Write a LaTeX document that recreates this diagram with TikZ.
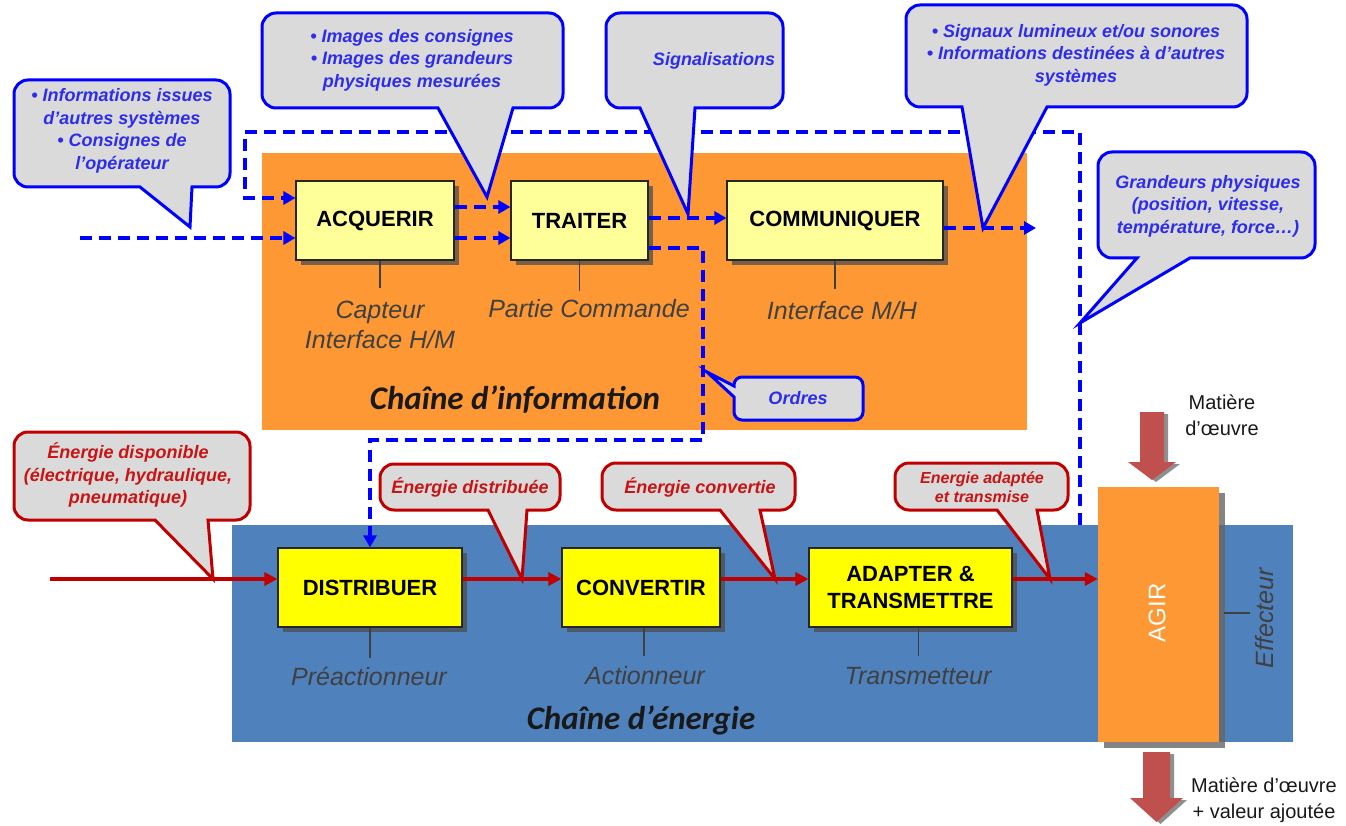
\documentclass[tikz,border=0pt]{standalone}
\usepackage{fontspec}
\setmainfont{Liberation Sans}
\newfontfamily\calibrifont{Carlito}
\usetikzlibrary{arrows.meta,shadows,calc}

\definecolor{infoOrange}{RGB}{253,152,52}
\definecolor{nrjBlue}{RGB}{79,129,189}
\definecolor{paleYellow}{RGB}{255,255,153}
\definecolor{brightYellow}{RGB}{255,255,0}
\definecolor{bubbleGray}{RGB}{218,218,218}
\definecolor{sigBlue}{RGB}{0,0,255}
\definecolor{sigText}{RGB}{45,45,235}
\definecolor{powRed}{RGB}{192,0,0}
\definecolor{powText}{RGB}{200,20,20}
\definecolor{matRed}{RGB}{192,80,77}
\definecolor{labelGray}{RGB}{64,64,64}
\definecolor{titleInk}{RGB}{25,25,25}

% corner radius of the speech bubbles
\newcommand\crad{14}
% speech bubble with a pointer under its bottom edge
% #1 style, #2 x1, #3 y1, #4 x2, #5 y2, #6 left base, #7 right base, #8 tip x, #9 tip y
\newcommand\bubble[9]{%
  \draw[#1]
    (#2+\crad,#3) -- (#4-\crad,#3)
    .. controls (#4-0.45*\crad,#3) and (#4,#3+0.45*\crad) .. (#4,#3+\crad)
    -- (#4,#5-\crad)
    .. controls (#4,#5-0.45*\crad) and (#4-0.45*\crad,#5) .. (#4-\crad,#5)
    -- (#7,#5) -- (#8,#9) -- (#6,#5)
    -- (#2+\crad,#5)
    .. controls (#2+0.45*\crad,#5) and (#2,#5-0.45*\crad) .. (#2,#5-\crad)
    -- (#2,#3+\crad)
    .. controls (#2,#3+0.45*\crad) and (#2+0.45*\crad,#3) .. (#2+\crad,#3)
    -- cycle;}

\begin{document}
\begin{tikzpicture}[x=1pt,y=-1pt,
  fnbox/.style={draw=black!85, line width=1.2pt, minimum height=79pt, inner sep=0pt,
    font=\bfseries\fontsize{22}{27}\selectfont, align=center,
    drop shadow={shadow xshift=5pt,shadow yshift=-5pt,fill=black!70,opacity=.75}},
  infobox/.style={fnbox, fill=paleYellow},
  nrjbox/.style={fnbox, fill=brightYellow},
  sig/.style={draw=sigBlue, line width=3.5pt, dash pattern=on 12pt off 7pt,
    -{Triangle[length=12pt,width=13pt]}},
  pow/.style={draw=powRed, line width=4pt, -{Triangle[length=13pt,width=13pt]}},
  tick/.style={draw=labelGray, line width=1.2pt},
  lbl/.style={text=labelGray, font=\itshape\fontsize{25}{30}\selectfont, align=center, inner sep=0pt},
  chain/.style={text=titleInk, font=\calibrifont\bfseries\itshape\fontsize{33}{36}\selectfont, inner sep=0pt},
  btxt/.style={text=sigText, font=\bfseries\itshape\fontsize{18}{22.5}\selectfont, align=center, inner sep=0pt},
  rtxt/.style={text=powText, font=\bfseries\itshape\fontsize{18}{22.5}\selectfont, align=center, inner sep=0pt},
  bshape/.style={draw=sigBlue, line width=3pt, fill=bubbleGray},
  rshape/.style={draw=powRed, line width=3pt, fill=bubbleGray},
  mattxt/.style={text=black!90, font=\fontsize{20}{26}\selectfont, align=center, inner sep=0pt},
  matarrow/.style={fill=matRed, drop shadow={shadow xshift=4pt,shadow yshift=-2pt,fill=black!55,opacity=.8}}
]
\useasboundingbox (0,0) rectangle (1346,826);
\fill[white] (0,0) rectangle (1346,826);

% ---- the two chains ----
\fill[infoOrange] (262,153) rectangle (1027,430);
\fill[nrjBlue] (232,525) rectangle (1293,742);
\node[chain] (tInfo) at (515,400) {Chaîne d’information};
\node[chain] (tNrj) at (641,720) {Chaîne d’énergie};

% ---- functions of the information chain ----
\node[infobox, minimum width=158pt] (acq) at (375,220.5) {ACQUERIR};
\node[infobox, minimum width=137pt] (tra) at (579.5,220.5) {TRAITER};
\node[infobox, minimum width=216pt] (com) at (835,220.5) {COMMUNIQUER};

% ---- functions of the energy chain ----
\node[nrjbox, minimum width=184pt] (dis) at (370,587.5) {DISTRIBUER};
\node[nrjbox, minimum width=158pt] (cnv) at (641,587.5) {CONVERTIR};
\node[nrjbox, minimum width=203pt] (ada) at (910.5,587.5) {ADAPTER \&\\TRANSMETTRE};

% ---- components under each function ----
\draw[tick] ([xshift=5pt]acq.south) -- ++(0,27);
\node[lbl] (lCap) at (380,325) {Capteur\\Interface H/M};
\draw[tick] (tra.south) -- ++(0,30);
\node[lbl] (lPC) at (589,309) {Partie Commande};
\draw[tick] (com.south) -- ++(0,28);
\node[lbl] (lMH) at (842,311) {Interface M/H};
\draw[tick] (dis.south) -- ++(0,30);
\node[lbl] (lPre) at (369,676) {Préactionneur};
\draw[tick] ([xshift=3pt]cnv.south) -- ++(0,28);
\node[lbl] (lAct) at (645,676) {Actionneur};
\draw[tick] ([xshift=8pt]ada.south) -- ++(0,28);
\node[lbl] (lTr) at (918,676) {Transmetteur};

% ---- effector ----
\node[fill=infoOrange, minimum width=121pt, minimum height=255pt, inner sep=0pt,
  drop shadow={shadow xshift=6pt,shadow yshift=-6pt,fill=black!60,opacity=.8}] (agir) at (1158.5,614.5) {};
\node[rotate=90, text=white, font=\fontsize{24}{28}\selectfont, inner sep=0pt] (agirT) at (1157,613) {AGIR};
\coordinate (eff) at (1250,613);
\draw[tick] ([xshift=5pt]agir.east |- eff) -- (eff);
\node[lbl, rotate=90, text=black!75] (lEff) at (1265,618) {Effecteur};

% ---- material flow ----
\path[matarrow] (1140,412) -- (1164,412) -- (1164,462) -- (1176,462) -- (1152,480)
  -- (1128,462) -- (1140,462) -- cycle;
\path[matarrow] (1143,752) -- (1170,752) -- (1170,798) -- (1183,798) -- (1156.5,822)
  -- (1130,798) -- (1143,798) -- cycle;
\node[mattxt] (mIn) at (1222,415) {Matière\\d’œuvre};
\node[mattxt] (mOut) at (1264,800) {Matière d’œuvre\\+ valeur ajoutée};

% ---- information flow ----
\coordinate (inA) at (80,238);
\coordinate (sA) at (0,207);
\coordinate (sB) at (0,238);
\coordinate (sC) at (0,218);
\coordinate (sD) at (0,228);
\coordinate (sE) at (0,248);
\coordinate (fbA) at (1080,525);
\coordinate (fbB) at (1080,132);
\coordinate (fbC) at (245,132);
\coordinate (fbD) at (245,198);
\coordinate (outC) at (1036,228);
\coordinate (o1) at (703,248);
\coordinate (o2) at (703,440);
\coordinate (o3) at (370,440);

\draw[sig] (inA) -- (inA -| acq.west);
\draw[sig] (fbA) -- (fbB) -- (fbC) -- (fbD) -- (fbD -| acq.west);
\draw[sig] (acq.east |- sA) -- (tra.west |- sA);
\draw[sig] (acq.east |- sB) -- (tra.west |- sB);
\draw[sig] (tra.east |- sC) -- (com.west |- sC);
\draw[sig] (com.east |- sD) -- (outC);
\draw[sig] (tra.east |- sE) -- (o1) -- (o2) -- (o3) -- (dis.north);

% ---- power flow ----
\coordinate (pIn) at (50,579);
\draw[pow] (pIn) -- (pIn -| dis.west);
\draw[pow] (dis.east |- pIn) -- (cnv.west |- pIn);
\draw[pow] (cnv.east |- pIn) -- (ada.west |- pIn);
\draw[pow] (ada.east |- pIn) -- (agir.west |- pIn);

% ---- information bubbles ----
\bubble{bshape}{14}{80}{230}{187}{140}{192}{190}{227}
\node[btxt] (cIn) at (122,131) {• Informations issues\\d’autres systèmes\\• Consignes de\\l’opérateur};

\bubble{bshape}{262}{13}{563}{108}{438}{513}{487}{197}
\node[btxt] (cImg) at (412,60) {• Images des consignes\\• Images des grandeurs\\physiques mesurées};

\bubble{bshape}{606}{13}{783}{108}{640}{695}{688}{214}
\node[btxt] (cSig) at (714,61) {Signalisations};

\bubble{bshape}{906}{5}{1247}{107}{962}{1047}{983}{228}
\node[btxt] (cOut) at (1076,55) {• Signaux lumineux et/ou sonores\\• Informations destinées à d’autres\\systèmes};

\bubble{bshape}{1098}{152}{1315}{258}{1137}{1190}{1080}{323}
\node[btxt] (cGr) at (1208,206) {Grandeurs physiques\\(position, vitesse,\\température, force…)};

% bubble with its pointer on the left edge
\draw[bshape] (742,377) -- (855,377)
  .. controls (859.4,377) and (863,380.6) .. (863,385)
  -- (863,412) .. controls (863,416.4) and (859.4,420) .. (855,420)
  -- (742,420) .. controls (737.6,420) and (734,416.4) .. (734,412)
  -- (734,397) -- (707,372) -- (734,386) -- (734,385)
  .. controls (734,380.6) and (737.6,377) .. (742,377) -- cycle;
\node[btxt] (cOrd) at (798,398) {Ordres};

% ---- energy bubbles ----
\bubble{rshape}{14}{432}{250}{520}{155}{208}{213}{579}
\node[rtxt] (eDisp) at (128,475) {Énergie disponible\\(électrique, hydraulique,\\pneumatique)};

\bubble{rshape}{380}{464}{560}{510}{488}{527}{522}{579}
\node[rtxt] (eDist) at (470,487) {Énergie distribuée};

\bubble{rshape}{602}{463}{795}{510}{720}{760}{775}{579}
\node[rtxt] (eConv) at (700,487) {Énergie convertie};

\bubble{rshape}{895}{463}{1068}{510}{997}{1037}{1050}{579}
\node[rtxt, font=\bfseries\itshape\fontsize{16}{19.5}\selectfont] (eAd) at (982,487) {Energie adaptée\\et transmise};

\end{tikzpicture}
\end{document}
